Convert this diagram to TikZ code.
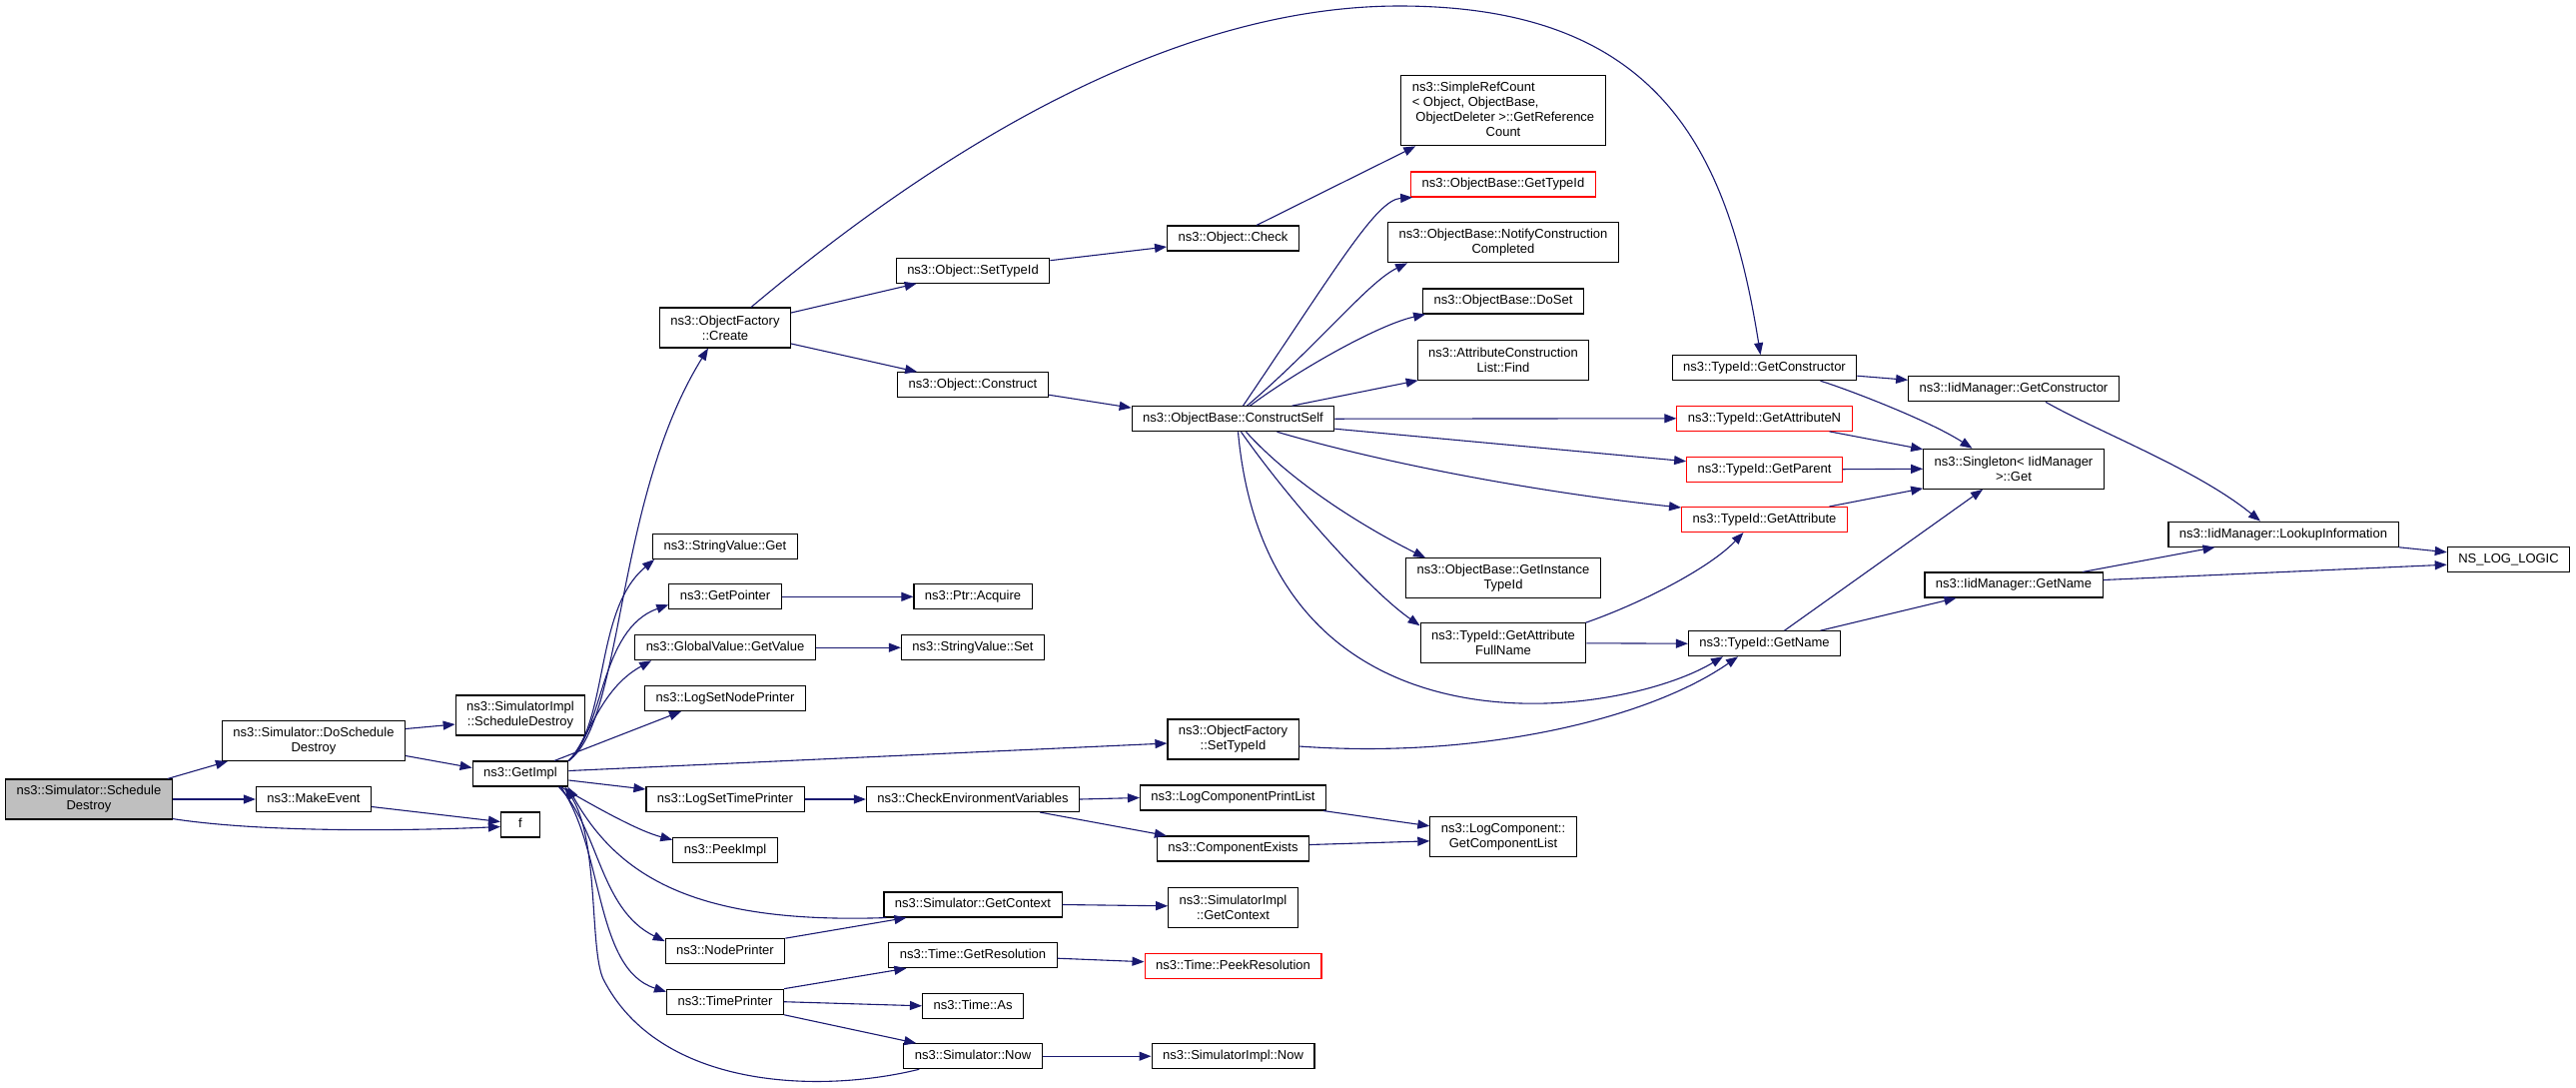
\documentclass[tikz,border=0pt]{standalone}
\usepackage{fontspec}
\setmainfont{Liberation Sans}
\usetikzlibrary{arrows.meta}
\definecolor{callblue}{RGB}{25,25,112}
\newcommand{\fnfont}{\fontsize{13}{15}\selectfont}

\begin{document}
\begin{tikzpicture}[
  x=1pt, y=-1pt,
  box/.style={draw=black, line width=1.1pt, fill=white, font=\fnfont,
    inner xsep=11pt, inner ysep=5pt, minimum height=25pt},
  fn/.style={box, text height=9.6pt, text depth=2.9pt},
  fnlong/.style={box, align=center, minimum height=40pt},
  undoc/.style={draw=red},
  root/.style={fill=gray!50},
  arrow/.style={draw=callblue, line width=1.1pt, -{Triangle[length=12pt,width=9pt]}}
]
\useasboundingbox (0,0) rectangle (2579,1088);

% Caller
\node[fnlong, root] (sd) at (89,800) {ns3::Simulator::Schedule\\Destroy};

% Column 1
\node[fnlong] (dosd) at (314,741.5) {ns3::Simulator::DoSchedule\\Destroy};
\node[fn] (mkev) at (314,800) {ns3::MakeEvent};

% Column 2
\node[fnlong] (implsd) at (521,716) {ns3::SimulatorImpl\\::ScheduleDestroy};
\node[fn] (getimpl) at (521,774.5) {ns3::GetImpl};
\node[fn, minimum width=39pt] (f) at (521,825.5) {f};

% Column 3
\node[fnlong] (ofcreate) at (726,328) {ns3::ObjectFactory\\::Create};
\node[fn] (svget) at (726,547) {ns3::StringValue::Get};
\node[fn] (getptr) at (726,597.3) {ns3::GetPointer};
\node[fn] (gvget) at (726,648.2) {ns3::GlobalValue::GetValue};
\node[fn] (lsnp) at (726,699) {ns3::LogSetNodePrinter};
\node[fn] (lstp) at (726,800) {ns3::LogSetTimePrinter};
\node[fn] (peek) at (726,850.7) {ns3::PeekImpl};
\node[fn] (nodepr) at (726,952.2) {ns3::NodePrinter};
\node[fn] (timepr) at (726,1002.7) {ns3::TimePrinter};

% Column 4
\node[fn] (osettid) at (974,270.7) {ns3::Object::SetTypeId};
\node[fn] (oconstr) at (974,385.2) {ns3::Object::Construct};
\node[fn] (acquire) at (974,597.3) {ns3::Ptr::Acquire};
\node[fn] (svset) at (974,648.2) {ns3::StringValue::Set};
\node[fn] (chkenv) at (974,800) {ns3::CheckEnvironmentVariables};
\node[fn] (simctx) at (974,905.5) {ns3::Simulator::GetContext};
\node[fn] (getres) at (974,956.2) {ns3::Time::GetResolution};
\node[fn] (timeas) at (974,1006.8) {ns3::Time::As};
\node[fn] (simnow) at (974,1057.2) {ns3::Simulator::Now};

% Column 5
\node[fn] (ocheck) at (1234.5,238.5) {ns3::Object::Check};
\node[fn] (cself) at (1234.5,419.2) {ns3::ObjectBase::ConstructSelf};
\node[fnlong] (ofsettid) at (1234.5,740) {ns3::ObjectFactory\\::SetTypeId};
\node[fn] (lcpl) at (1234.5,798.5) {ns3::LogComponentPrintList};
\node[fn] (cexists) at (1234.5,849.5) {ns3::ComponentExists};
\node[fnlong] (implctx) at (1234.5,908.3) {ns3::SimulatorImpl\\::GetContext};
\node[fn, undoc] (peekres) at (1234.5,966.7) {ns3::Time::PeekResolution};
\node[fn] (implnow) at (1234.5,1057.2) {ns3::SimulatorImpl::Now};

% Column 6
\node[box] (refcount) at (1505,110.8) {\begin{tabular}{@{}l@{}}ns3::SimpleRefCount\\< Object, ObjectBase,\\\ ObjectDeleter >::GetReference\\\multicolumn{1}{@{}c@{}}{Count}\end{tabular}};
\node[fn, undoc] (obgettid) at (1505,184.5) {ns3::ObjectBase::GetTypeId};
\node[fnlong] (notify) at (1505,242.8) {ns3::ObjectBase::NotifyConstruction\\Completed};
\node[fn] (doset) at (1505,301.5) {ns3::ObjectBase::DoSet};
\node[fnlong] (acfind) at (1505,360.2) {ns3::AttributeConstruction\\List::Find};
\node[fnlong] (instid) at (1505,578.8) {ns3::ObjectBase::GetInstance\\TypeId};
\node[fnlong] (fullname) at (1505,643.8) {ns3::TypeId::GetAttribute\\FullName};
\node[fnlong] (complist) at (1505,837.3) {ns3::LogComponent::\\GetComponentList};

% Column 7
\node[fn] (tgetctor) at (1766.5,368.2) {ns3::TypeId::GetConstructor};
\node[fn, undoc] (getattrn) at (1766.5,418.8) {ns3::TypeId::GetAttributeN};
\node[fn, undoc] (getparent) at (1766.5,469.7) {ns3::TypeId::GetParent};
\node[fn, undoc] (getattr) at (1766.5,520) {ns3::TypeId::GetAttribute};
\node[fn] (tgetname) at (1766.5,644.2) {ns3::TypeId::GetName};

% Column 8 to 10
\node[fn] (igetctor) at (2016,389.3) {ns3::IidManager::GetConstructor};
\node[fnlong] (singleton) at (2016,469.3) {ns3::Singleton< IidManager\\ >::Get};
\node[fn] (igetname) at (2016,585.5) {ns3::IidManager::GetName};
\node[fn] (lookup) at (2286,534.7) {ns3::IidManager::LookupInformation};
\node[fn] (nslog) at (2511.5,560.2) {NS\_LOG\_LOGIC};

% Calls from the caller
\draw[arrow] ([xshift=-5pt]sd.north east) -- ([xshift=6pt]dosd.south west);
\draw[arrow] (sd.east) -- (mkev.west);
\draw[arrow] ([yshift=1pt]sd.south east) .. controls (260,833) and (400,832) .. ([yshift=-2pt]f.west);
\draw[arrow] ([yshift=-7.5pt]mkev.east) -- ([yshift=3pt]f.west);
\draw[arrow] ([yshift=12pt]dosd.east) -- ([yshift=-9pt]implsd.west);
\draw[arrow] ([yshift=-15pt]dosd.east) -- ([yshift=6pt]getimpl.west);

% Calls from GetImpl, upwards
\draw[arrow] (getimpl.north east) .. controls (625,720) and (615,500) .. ([xshift=-17pt]ofcreate.south);
\draw[arrow] (getimpl.north east) .. controls (610,720) and (595,610) .. ([xshift=2pt]svget.south west);
\draw[arrow] (getimpl.north east) .. controls (605,730) and (600,630) .. ([yshift=-8pt]getptr.west);
\draw[arrow] (getimpl.north east) .. controls (590,740) and (600,690) .. ([xshift=17pt]gvget.south west);
\draw[arrow] ([xshift=34pt]getimpl.north) -- ([xshift=-44pt]lsnp.south);

% Calls from GetImpl, sideways and downwards
\draw[arrow] ([yshift=3pt]getimpl.east) -- ([yshift=-4pt]ofsettid.west);
\draw[arrow] ([yshift=-6.5pt]getimpl.east) -- ([yshift=10pt]lstp.west);
\draw[arrow] ([xshift=-8pt]getimpl.south east) .. controls (600,810) and (640,832) .. ([yshift=-3pt]peek.north west);
\draw[arrow] ([xshift=-10pt]getimpl.south east) .. controls (600,830) and (600,910) .. ([yshift=-3pt]nodepr.north west);
\draw[arrow] ([xshift=-8pt]getimpl.south east) .. controls (605,850) and (595,970) .. ([yshift=-3pt]timepr.north west);

% Calls back into GetImpl
\draw[arrow] ([xshift=3pt]simctx.south west) .. controls (700,925) and (620,880) .. ([xshift=-1pt]getimpl.south east);
\draw[arrow] ([xshift=16pt]simnow.south west) .. controls (820,1095) and (660,1090) .. (604,980) .. controls (590,950) and (600,840) .. ([xshift=-4pt]getimpl.south east);

% ObjectFactory::Create
\draw[arrow] ([yshift=15pt]ofcreate.east) -- ([xshift=21pt]osettid.south west);
\draw[arrow] ([yshift=-16pt]ofcreate.east) -- ([xshift=20pt]oconstr.north west);
\draw[arrow] ([xshift=26pt]ofcreate.north) .. controls (905,179) and (1151,6) .. (1401,6) .. controls (1661,6) and (1730,150) .. ([xshift=-4pt]tgetctor.north);
\draw[arrow] ([yshift=10pt]osettid.east) -- ([yshift=-8.5pt]ocheck.west);
\draw[arrow] ([xshift=23.5pt]ocheck.north) -- ([xshift=15pt]refcount.south west);
\draw[arrow] ([yshift=-10pt]oconstr.east) -- ([yshift=-2pt]cself.north west);

% ObjectBase::ConstructSelf
\draw[arrow] ([xshift=10pt]cself.north) .. controls (1340,265) and (1378,200) .. ([xshift=2pt]obgettid.south west);
\draw[arrow] ([xshift=14pt]cself.north) .. controls (1320,345) and (1370,282) .. ([xshift=20pt]notify.south west);
\draw[arrow] ([xshift=17pt]cself.north) .. controls (1300,370) and (1380,325) .. ([xshift=3pt]doset.south west);
\draw[arrow] ([xshift=59pt]cself.north) -- ([xshift=1pt]acfind.south west);
\draw[arrow] (cself.east) -- (getattrn.west);
\draw[arrow] ([yshift=-10pt]cself.east) -- ([yshift=8pt]getparent.west);
\draw[arrow] ([xshift=44pt]cself.south) .. controls (1400,468) and (1560,495) .. ([yshift=12pt]getattr.west);
\draw[arrow] ([xshift=13pt]cself.south) .. controls (1300,490) and (1380,535) .. ([xshift=20pt]instid.north west);
\draw[arrow] ([xshift=8pt]cself.south) .. controls (1290,500) and (1370,590) .. ([yshift=-3pt]fullname.north west);
\draw[arrow] ([xshift=5pt]cself.south) .. controls (1270,770) and (1620,720) .. ([xshift=-41.5pt]tgetname.south);

% TypeId helpers
\draw[arrow] ([xshift=-1pt]fullname.north east) .. controls (1640,605) and (1710,570) .. ([xshift=-21pt]getattr.south);
\draw[arrow] (fullname.east) -- (tgetname.west);
\draw[arrow] ([yshift=-7pt]ofsettid.east) .. controls (1480,760) and (1650,720) .. ([xshift=-26.5pt]tgetname.south);

% Singleton and IidManager
\draw[arrow] ([yshift=-8pt]tgetctor.east) -- ([yshift=9pt]igetctor.west);
\draw[arrow] ([xshift=56pt]tgetctor.south) .. controls (1845,388) and (1930,420) .. ([xshift=-41.5pt]singleton.north);
\draw[arrow] ([xshift=65pt]getattrn.south) -- ([yshift=-1pt]singleton.north west);
\draw[arrow] (getparent.east) -- (singleton.west);
\draw[arrow] ([xshift=65pt]getattr.north) -- ([yshift=1pt]singleton.south west);
\draw[arrow] ([xshift=20pt]tgetname.north) -- ([xshift=-31pt]singleton.south);
\draw[arrow] ([xshift=56pt]tgetname.north) -- ([xshift=-57.5pt]igetname.south);
\draw[arrow] ([xshift=32pt]igetctor.south) .. controls (2100,432) and (2200,470) .. ([xshift=-23pt]lookup.north);
\draw[arrow] ([xshift=69pt]igetname.north) -- ([xshift=-68.5pt]lookup.south);
\draw[arrow] ([yshift=5pt]igetname.east) -- ([yshift=-5pt]nslog.west);
\draw[arrow] (lookup.south east) -- ([yshift=7.5pt]nslog.west);

% Value, logging and time helpers
\draw[arrow] (getptr.east) -- (acquire.west);
\draw[arrow] (gvget.east) -- (svset.west);
\draw[arrow] (lstp.east) -- (chkenv.west);
\draw[arrow] (chkenv.east) -- (lcpl.west);
\draw[arrow] ([xshift=-40pt]chkenv.south east) -- ([xshift=10pt]cexists.north west);
\draw[arrow] ([xshift=-3pt]lcpl.south east) -- ([yshift=10.5pt]complist.west);
\draw[arrow] ([yshift=4pt]cexists.east) -- ([yshift=-4.5pt]complist.west);
\draw[arrow] (simctx.east) -- ([yshift=1.5pt]implctx.west);
\draw[arrow] (nodepr.north east) -- ([xshift=23pt]simctx.south west);
\draw[arrow] (timepr.north east) -- ([xshift=18pt]getres.south west);
\draw[arrow] (timepr.east) -- (timeas.west);
\draw[arrow] (timepr.south east) -- ([xshift=13pt]simnow.north west);
\draw[arrow] ([yshift=-3pt]getres.east) -- ([yshift=4pt]peekres.west);
\draw[arrow] (simnow.east) -- (implnow.west);

\end{tikzpicture}
\end{document}
